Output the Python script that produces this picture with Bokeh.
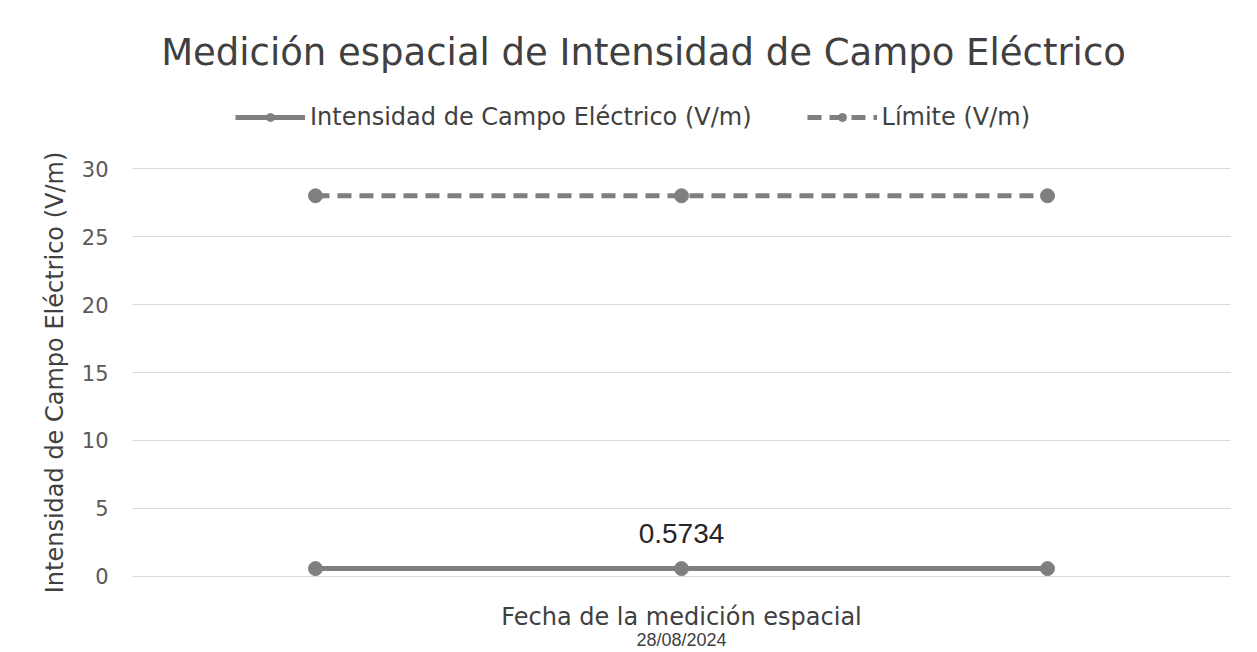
from bokeh.plotting import figure
from bokeh.models import (Range1d, FixedTicker, LinearAxis, Legend, LegendItem,
                          Label, ColumnDataSource)
from bokeh.layouts import column
from bokeh.embed import file_html
from bokeh.resources import INLINE

# ---- data ----
x_pos = [1, 2, 3]
x_tick_labels = {1: "", 2: "28/08/2024", 3: ""}
intensidad = [0.5734, 0.5734, 0.5734]
limite = [28, 28, 28]
y_ticks = [0, 5, 10, 15, 20, 25, 30]
data_label_index = 1

TITLE = "Medición espacial de Intensidad de Campo Eléctrico"
S1 = "Intensidad de Campo Eléctrico (V/m)"
S2 = "Límite (V/m)"
X_LABEL = "Fecha de la medición espacial"
Y_LABEL = "Intensidad de Campo Eléctrico (V/m)"

FONT = "DejaVu Sans"
TXT = "#404040"
LINE_C = "#7f7f7f"
GRID_C = "#d9d9d9"

src = ColumnDataSource(dict(x=x_pos, e=intensidad, lim=limite))

W = 1257
HEADER_H = 148
MAIN_H = 504
LEFT = 132


def series(fig):
    a = fig.line("x", "e", source=src, line_color=LINE_C, line_width=5)
    b = fig.scatter("x", "e", source=src, size=14, fill_color=LINE_C, line_color=LINE_C)
    c = fig.line("x", "lim", source=src, line_color=LINE_C, line_width=5, line_dash="14 8")
    d = fig.scatter("x", "lim", source=src, size=14, fill_color=LINE_C, line_color=LINE_C)
    return a, b, c, d


# ---------- header: title + legend ----------
h = figure(width=W, height=HEADER_H, output_backend="svg", toolbar_location=None,
           x_range=Range1d(100, 101), y_range=Range1d(100, 101),
           min_border=0, x_axis_location=None, y_axis_location=None)
h.outline_line_color = None
h.grid.grid_line_color = None
hl1, hc1, hl2, hc2 = series(h)   # same series, outside the header's view; used by the legend

title = Label(x=643 - LEFT, y=HEADER_H - 52, x_units="screen", y_units="screen", text=TITLE,
              text_align="center", text_baseline="middle", text_font=FONT,
              text_font_size="37px", text_color=TXT)
h.add_layout(title)

legend = Legend(items=[LegendItem(label=S1, renderers=[hl1, hc1]),
                       LegendItem(label=S2, renderers=[hl2, hc2])],
                orientation="horizontal", location=(235 - LEFT, HEADER_H - 117 - 14),
                label_text_font=FONT, label_text_font_size="24px",
                label_text_color=TXT, glyph_width=70, glyph_height=20,
                spacing=55, margin=0, padding=5, border_line_color=None,
                background_fill_alpha=0, label_standoff=5)
h.add_layout(legend, "center")

# ---------- main chart ----------
p = figure(width=W, height=MAIN_H, output_backend="svg", toolbar_location=None,
           x_range=Range1d(0.5, 3.5), y_range=Range1d(-0.08, 30.08),
           min_border_left=LEFT, min_border_right=27, min_border_top=19,
           min_border_bottom=70, x_axis_location=None, y_axis_location=None)
p.outline_line_color = None

yax = LinearAxis(ticker=FixedTicker(ticks=y_ticks), axis_label=Y_LABEL)
yax.axis_line_color = None
yax.major_tick_line_color = None
yax.major_tick_out = 0
yax.minor_tick_line_color = None
yax.major_label_text_font = FONT
yax.major_label_text_font_size = "21px"
yax.major_label_text_color = "#595959"
yax.major_label_standoff = 24
yax.axis_label_text_font = FONT
yax.axis_label_text_font_size = "24px"
yax.axis_label_text_font_style = "normal"
yax.axis_label_text_color = TXT
yax.axis_label_standoff = 10
p.add_layout(yax, "left")

xax = LinearAxis(ticker=FixedTicker(ticks=[]), axis_label=X_LABEL)
xax.axis_line_color = None
xax.major_tick_line_color = None
xax.major_tick_out = 0
xax.minor_tick_line_color = None
xax.axis_label_text_font = FONT
xax.axis_label_text_font_size = "24px"
xax.axis_label_text_font_style = "normal"
xax.axis_label_text_color = TXT
xax.axis_label_standoff = 25
p.add_layout(xax, "below")

xax2 = LinearAxis(ticker=FixedTicker(ticks=x_pos), major_label_overrides=x_tick_labels)
xax2.axis_line_color = None
xax2.major_tick_line_color = None
xax2.major_tick_out = 0
xax2.minor_tick_line_color = None
xax2.major_label_text_font = "Liberation Sans"
xax2.major_label_text_font_size = "18px"
xax2.major_label_text_color = TXT
xax2.major_label_standoff = -4
p.add_layout(xax2, "below")

p.ygrid.ticker = FixedTicker(ticks=y_ticks)
p.ygrid.grid_line_color = GRID_C
p.ygrid.grid_line_width = 1
p.xgrid.grid_line_color = None

series(p)

lab = Label(x=x_pos[data_label_index], y=intensidad[data_label_index],
            text=str(intensidad[data_label_index]), text_align="center",
            text_baseline="bottom", y_offset=26, text_font="Liberation Sans",
            text_font_size="28px", text_color="#262626")
p.add_layout(lab)

layout = column(h, p, spacing=0)
open("out.html", "w").write(file_html(layout, INLINE))
